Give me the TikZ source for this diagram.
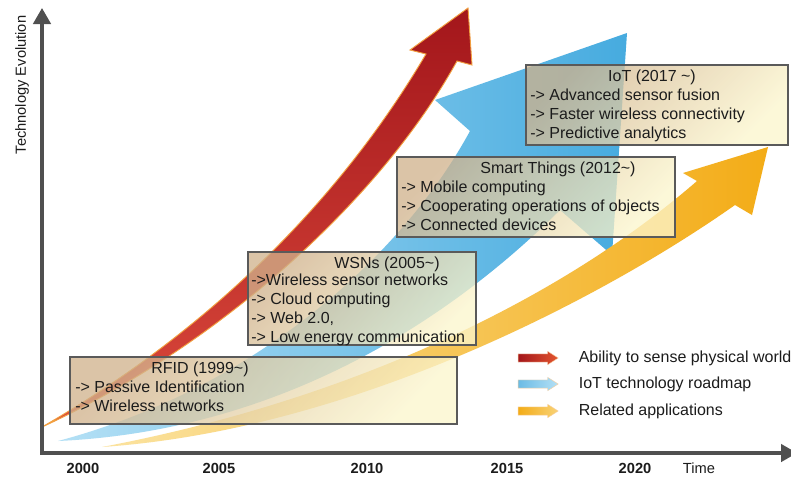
\documentclass[tikz,border=0pt]{standalone}
\usepackage{fontspec}
\setmainfont{Liberation Sans}
\usetikzlibrary{arrows.meta,positioning,shapes.arrows,fit}

\definecolor{axisgray}{HTML}{505050}
\definecolor{textdark}{HTML}{1C1C1C}
\definecolor{redA}{HTML}{A3161B}
\definecolor{redM}{HTML}{C52629}
\definecolor{redB}{HTML}{DC4A3C}
\definecolor{redglow}{HTML}{F2A040}
\definecolor{blueA}{HTML}{B4E0F5}
\definecolor{blueB}{HTML}{46ABDF}
\definecolor{orangeA}{HTML}{FBE3A0}
\definecolor{orangeB}{HTML}{F3AC17}
\definecolor{boxtan}{HTML}{D0B28C}
\definecolor{boxmid}{HTML}{D8D2C4}
\definecolor{boxcream}{HTML}{FCF6CD}
\definecolor{boxline}{HTML}{5A5A5A}

\tikzset{
  axisline/.style={line width=2.6pt, draw=axisgray,
    {Triangle[length=12pt,width=13pt]}-{Triangle[length=12pt,width=13pt]}},
  axislbl/.style={font=\fontsize{11}{13}\selectfont, text=textdark},
  yearlbl/.style={axislbl, font=\fontsize{11}{13}\selectfont\bfseries},
  infobox/.style={draw=boxline, line width=0.8pt, inner sep=0pt,
    top color=boxtan, middle color=boxmid, bottom color=boxcream,
    shading angle=45, fill opacity=0.76},
  boxtitle/.style={anchor=base, font=\fontsize{12}{14}\selectfont, text=textdark},
  boxlist/.style={anchor=north west, align=left, inner sep=0pt,
    font=\fontsize{12}{14.2}\selectfont, text=textdark},
  legarrow/.style={single arrow, minimum height=30pt, minimum width=10pt,
    text height=4pt, single arrow head extend=1.4pt, single arrow tip angle=65,
    inner sep=0pt, draw=redglow!50, line width=0.3pt},
  legtext/.style={anchor=west, inner sep=0pt, font=\fontsize{12}{14}\selectfont, text=textdark},
}

\begin{document}
\begin{tikzpicture}[x=0.75pt, y=-0.75pt]
\useasboundingbox[fill=white] (0,0) rectangle (791,476);

% the three growth arrows
\shade[left color=blueA, right color=blueB]
  (58,441) .. controls (250,390) and (400,260) .. (470,131) -- (435,100) -- (627,33)
  -- (612,255) -- (560,210) .. controls (470,300) and (300,430) .. (58,441) -- cycle;
\shadedraw[top color=redA, middle color=redM, bottom color=redB, draw=redglow, line width=0.7pt]
  (42,427) .. controls (210,330) and (340,200) .. (426,54) -- (410,50) -- (468,8)
  -- (472,65) -- (457,61) .. controls (380,200) and (220,345) .. (42,427) -- cycle;
\shade[left color=orangeA, right color=orangeB]
  (102,447) .. controls (350,400) and (560,300) .. (697,181) -- (683,173) -- (768,147)
  -- (752,215) -- (735,205) .. controls (600,300) and (350,430) .. (102,447) -- cycle;

% axes
\coordinate (origin) at (42,453);
\coordinate (ytip) at (42,8);
\coordinate (xtip) at (797,453);
\draw[axisline] (ytip) -- (origin) -- (xtip);
\node[axislbl, rotate=90] (ylabel) at (22,85) {Technology Evolution};
\node[yearlbl] (y2000) at (83,468) {2000};
\node[yearlbl] (y2005) at (219,468) {2005};
\node[yearlbl] (y2010) at (367,468) {2010};
\node[yearlbl] (y2015) at (507,468) {2015};
\node[yearlbl] (y2020) at (635,468) {2020};
\node[axislbl] (xlabel) at (699,468) {Time};

% stage boxes
\node[infobox, fit={(70,357) (457,424)}] (rfid) {};
\node[infobox, fit={(248,252) (476,345)}] (wsn) {};
\node[infobox, fit={(397,157) (675,237)}] (smart) {};
\node[infobox, fit={(526,65) (788,145)}] (iot) {};

\node[boxtitle] (rfidT) at (200,373) {RFID (1999\textasciitilde)};
\node[boxlist] (rfidL) at (75,381) {-> Passive Identification\\-> Wireless networks};
\node[boxtitle] (wsnT) at (387,268) {WSNs (2005\textasciitilde)};
\node[boxlist] (wsnL) at (251,274) {->Wireless sensor networks\\-> Cloud computing\\-> Web 2.0,\\-> Low energy communication};
\node[boxtitle] (smartT) at (558,173) {Smart Things (2012\textasciitilde)};
\node[boxlist] (smartL) at (401,181) {-> Mobile computing\\-> Cooperating operations of objects\\-> Connected devices};
\node[boxtitle] (iotT) at (652,81) {IoT (2017 \textasciitilde)};
\node[boxlist] (iotL) at (530,89) {-> Advanced sensor fusion\\-> Faster wireless connectivity\\-> Predictive analytics};

% legend
\node[legarrow, left color=redA, right color=redB!80!orange] (legRed) at (535,358) {};
\node[legarrow, left color=blueB!80, right color=blueA] (legBlue) at (535,384) {};
\node[legarrow, left color=orangeB, right color=orangeA!70!orangeB] (legOrange) at (535,411) {};
\node[legtext, right=15pt of legRed] (legRedT) {Ability to sense physical world};
\node[legtext, right=15pt of legBlue] (legBlueT) {IoT technology roadmap};
\node[legtext, right=15pt of legOrange] (legOrangeT) {Related applications};
\end{tikzpicture}
\end{document}
